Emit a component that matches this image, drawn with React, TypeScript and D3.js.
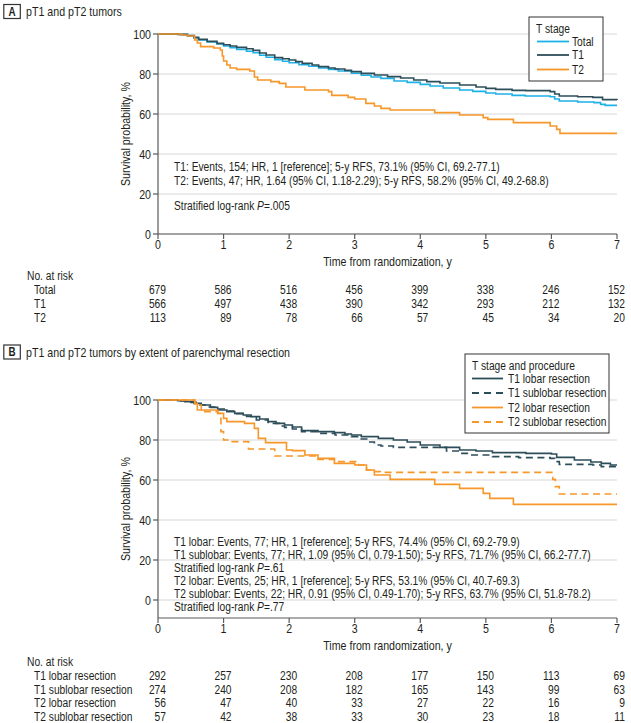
import React from "react";
import * as d3 from "d3";

// ---------- DATA ----------
const years = [0, 1, 2, 3, 4, 5, 6, 7];
const yTicks = [0, 20, 40, 60, 80, 100];

// Panel A: Kaplan-Meier steps [time (y), survival %]
const totalA: [number, number][] = [
  [0, 100], [0.35, 99.7], [0.45, 99], [0.55, 98], [0.62, 97], [0.75, 96], [0.9, 95], [1.0, 94],
  [1.1, 93.2], [1.2, 92.3], [1.35, 91.4], [1.45, 90.6], [1.55, 89.4], [1.65, 88.4], [1.78, 87.2],
  [1.9, 86.4], [2.0, 85.6], [2.15, 84.6], [2.3, 83.9], [2.45, 83], [2.6, 82.3], [2.75, 81.5],
  [2.95, 80.4], [3.1, 79.4], [3.25, 78.5], [3.4, 77.8], [3.6, 76.5], [3.8, 75.8], [4.0, 74.8],
  [4.15, 74], [4.35, 73], [4.6, 72], [4.8, 71.3], [5.0, 70.5], [5.15, 70], [5.4, 69.3], [5.6, 69],
  [5.98, 68.6], [6.05, 67.5], [6.12, 66.5], [6.4, 66], [6.65, 65.7], [6.75, 64.8], [6.82, 64.3], [7, 64.3],
];
const t1A: [number, number][] = [
  [0, 100], [0.3, 99.8], [0.45, 99.2], [0.55, 98.3], [0.62, 97.3], [0.75, 96.3], [0.9, 95.3],
  [1.0, 94.6], [1.1, 94], [1.2, 93.3], [1.35, 92.6], [1.45, 91.8], [1.55, 90.5], [1.65, 89.5],
  [1.78, 88.2], [1.9, 87.6], [2.0, 87], [2.1, 86.2], [2.2, 85.3], [2.35, 84.5], [2.45, 83.7],
  [2.6, 83], [2.7, 82.5], [2.85, 81.8], [2.95, 81.2], [3.1, 80.3], [3.3, 79.5], [3.5, 78.7],
  [3.7, 78], [3.9, 77], [4.1, 76.2], [4.3, 75.5], [4.6, 74.5], [4.85, 73.5], [5.0, 72.8],
  [5.15, 72.3], [5.4, 71.8], [5.61, 71.7], [5.98, 71.2], [6.05, 70], [6.12, 69], [6.4, 68.6],
  [6.63, 68.3], [6.78, 67.2], [7, 67],
];
const t2A: [number, number][] = [
  [0, 100], [0.36, 99.5], [0.46, 99], [0.56, 97], [0.6, 95.5], [0.65, 93.7], [0.85, 93], [0.95, 92],
  [0.98, 89], [1.0, 86.5], [1.05, 84.5], [1.1, 83], [1.2, 82.3], [1.4, 81.5], [1.47, 78.5],
  [1.52, 77], [1.72, 76.2], [1.85, 75.3], [1.95, 73.5], [2.24, 72], [2.6, 71.2], [2.65, 69.3],
  [2.9, 68.3], [3.0, 67.5], [3.17, 65.3], [3.3, 64], [3.4, 62.8], [3.54, 62], [4.22, 60.7],
  [4.6, 59.5], [4.96, 58.2], [5.03, 57.3], [5.42, 55.7], [5.98, 54], [6.08, 52.3], [6.13, 50.3], [7, 50.3],
];

// Panel B
const t1LobarB: [number, number][] = [
  [0, 100], [0.3, 99.6], [0.41, 99.2], [0.55, 98.3], [0.66, 97.5], [0.8, 96.3], [0.91, 95],
  [1.05, 94.2], [1.17, 93.3], [1.3, 92.5], [1.42, 91.7], [1.55, 90.5], [1.68, 89.2], [1.8, 88.3],
  [1.93, 87.5], [2.05, 86.5], [2.19, 84.7], [2.44, 84.2], [2.69, 83.7], [2.85, 83], [2.95, 82.5],
  [3.1, 81.7], [3.36, 80.8], [3.59, 80], [3.8, 79], [4.0, 77.5], [4.3, 76.3], [4.6, 75], [4.85, 74.5],
  [5.1, 73.7], [5.61, 73.3], [6.0, 73], [6.08, 71.3], [6.35, 70], [6.6, 69], [6.76, 68.3], [6.9, 67.5], [7, 67.5],
];
const t1SublobarB: [number, number][] = [
  [0, 100], [0.3, 99.5], [0.45, 98.8], [0.6, 97.5], [0.75, 96.5], [0.9, 95.5], [1.05, 94.5],
  [1.2, 93.2], [1.35, 91.8], [1.5, 90], [1.68, 88.3], [1.85, 87], [1.93, 86.3], [2.05, 85.5],
  [2.19, 84.2], [2.44, 83.3], [2.7, 82.5], [2.95, 81.7], [3.1, 80.5], [3.2, 79], [3.3, 77.5],
  [3.4, 77], [3.59, 76.3], [4.1, 76.3], [4.4, 74.5], [4.6, 73.3], [4.75, 72.5], [5.1, 71.7],
  [5.5, 71.2], [5.98, 70.8], [6.05, 69.2], [6.12, 67.8], [6.63, 67.5], [6.76, 66.7], [7, 66.7],
];
const t2LobarB: [number, number][] = [
  [0, 100], [0.56, 98.3], [0.6, 95], [0.91, 93.3], [1.0, 90.8], [1.05, 89.2], [1.32, 88.3],
  [1.47, 85.8], [1.53, 80.8], [1.64, 78.7], [1.96, 75], [2.05, 74.7], [2.24, 72.5], [2.44, 70.8],
  [2.69, 68.3], [3.0, 67.5], [3.18, 65], [3.3, 62.5], [3.54, 60.3], [4.22, 57.8], [4.6, 55.8],
  [4.96, 53.3], [5.06, 50.8], [5.42, 47.8], [7, 47.8],
];
const t2SublobarB: [number, number][] = [
  [0, 100], [0.56, 97.5], [0.66, 94.2], [0.91, 93.3], [0.96, 84.2], [1.0, 80], [1.1, 79.2],
  [1.38, 75.5], [1.78, 72], [2.3, 72], [2.44, 70.3], [2.69, 69.2], [3.06, 67.5], [3.18, 65],
  [3.24, 64.2], [3.39, 63.8], [5.98, 63.8], [6.02, 60.3], [6.06, 56.7], [6.12, 53], [7, 53],
];

// Risk tables
const riskLabelsA = ["Total", "T1", "T2"];
const riskA = [
  [679, 586, 516, 456, 399, 338, 246, 152],
  [566, 497, 438, 390, 342, 293, 212, 132],
  [113, 89, 78, 66, 57, 45, 34, 20],
];
const riskLabelsB = ["T1 lobar resection", "T1 sublobar resection", "T2 lobar resection", "T2 sublobar resection"];
const riskB = [
  [292, 257, 230, 208, 177, 150, 113, 69],
  [274, 240, 208, 182, 165, 143, 99, 63],
  [56, 47, 40, 33, 27, 22, 16, 9],
  [57, 42, 38, 33, 30, 23, 18, 11],
];

// ---------- STYLE ----------
const FONT = "'Liberation Sans', Arial, sans-serif";
const SX = 0.82; // horizontal condensing to mimic a narrow face
const FS = 12.5;
const TXT = "#231f20";
const AXIS = "#5a5a5a";
const GRID = "#e4e4e4";
const C_TOTAL = "#1db1e8";
const C_T1 = "#2c4e5a";
const C_T2 = "#f7972a";
const DASH = "7,4.5";

const W = 631;
const H = 723;
const x = d3.scaleLinear().domain([0, 7]).range([158, 617]);
const yA = d3.scaleLinear().domain([0, 100]).range([234, 34]);
const yB = d3.scaleLinear().domain([-9, 100]).range([618, 400]);

function pathFor(data: [number, number][], y: d3.ScaleLinear<number, number>) {
  return (
    d3
      .line<[number, number]>()
      .x((d) => x(d[0]))
      .y((d) => y(d[1]))
      .curve(d3.curveStepAfter)(data) || ""
  );
}

function T({
  x: tx,
  y: ty,
  anchor = "start",
  size = FS,
  rotate = false,
  bold = false,
  children,
}: {
  x: number;
  y: number;
  anchor?: string;
  size?: number;
  rotate?: boolean;
  bold?: boolean;
  children: React.ReactNode;
}) {
  return (
    <text
      transform={`translate(${tx},${ty})${rotate ? " rotate(-90)" : ""} scale(${SX},1)`}
      textAnchor={anchor}
      dy="0.35em"
      fontSize={size}
      fontWeight={bold ? "bold" : "normal"}
      fill={TXT}
    >
      {children}
    </text>
  );
}

function Axes({ y, y0, y100, axisY }: { y: d3.ScaleLinear<number, number>; y0: number; y100: number; axisY: number }) {
  return (
    <g>
      {yTicks.map((t) => (
        <line key={"g" + t} x1={x(0)} x2={x(7)} y1={y(t)} y2={y(t)} stroke={GRID} strokeWidth={1.6} />
      ))}
      <line x1={x(0)} x2={x(0)} y1={y(100)} y2={axisY} stroke={AXIS} strokeWidth={1.2} />
      <line x1={x(0)} x2={x(7)} y1={axisY} y2={axisY} stroke={AXIS} strokeWidth={1.2} />
      {yTicks.map((t) => (
        <g key={"y" + t}>
          <line x1={x(0) - 5} x2={x(0)} y1={y(t)} y2={y(t)} stroke={AXIS} strokeWidth={1.2} />
          <T x={x(0) - 7} y={y(t)} anchor="end" size={13}>
            {t}
          </T>
        </g>
      ))}
      {years.map((t) => (
        <g key={"x" + t}>
          <line x1={x(t)} x2={x(t)} y1={axisY} y2={axisY + 5} stroke={AXIS} strokeWidth={1.2} />
          <T x={x(t)} y={axisY + 10} anchor="middle" size={13}>
            {t}
          </T>
        </g>
      ))}
      <T x={125} y={(y0 + y100) / 2} anchor="middle" rotate size={13}>
        Survival probability, %
      </T>
      <T x={(x(0) + x(7)) / 2} y={axisY + 27} anchor="middle" size={13}>
        Time from randomization, y
      </T>
    </g>
  );
}

function PanelTitle({ letter, title, cy }: { letter: string; title: string; cy: number }) {
  return (
    <g>
      <rect x={3.8} y={cy - 7} width={16.5} height={14} fill="white" stroke="#333" strokeWidth={1.2} />
      <T x={12} y={cy} anchor="middle" size={12} bold>
        {letter}
      </T>
      <T x={26} y={cy} size={13}>
        {title}
      </T>
    </g>
  );
}

function RiskTable({ labels, rows, top }: { labels: string[]; rows: number[][]; top: number }) {
  return (
    <g>
      <T x={27} y={top}>No. at risk</T>
      {labels.map((l, i) => (
        <g key={l}>
          <T x={34} y={top + 14 + i * 13.6}>{l}</T>
          {rows[i].map((v, j) => (
            <T key={j} x={x(years[j]) + 8} y={top + 14 + i * 13.6} anchor="end">
              {v}
            </T>
          ))}
        </g>
      ))}
    </g>
  );
}

export default function App() {
  const annA = [
    "T1: Events, 154; HR, 1 [reference]; 5-y RFS, 73.1% (95% CI, 69.2-77.1)",
    "T2: Events, 47; HR, 1.64 (95% CI, 1.18-2.29); 5-y RFS, 58.2% (95% CI, 49.2-68.8)",
  ];
  const annB = [
    "T1 lobar: Events, 77; HR, 1 [reference]; 5-y RFS, 74.4% (95% CI, 69.2-79.9)",
    "T1 sublobar: Events, 77; HR, 1.09 (95% CI, 0.79-1.50); 5-y RFS, 71.7% (95% CI, 66.2-77.7)",
    "P=.61",
    "T2 lobar: Events, 25; HR, 1 [reference]; 5-y RFS, 53.1% (95% CI, 40.7-69.3)",
    "T2 sublobar: Events, 22; HR, 0.91 (95% CI, 0.49-1.70); 5-y RFS, 63.7% (95% CI, 51.8-78.2)",
    "P=.77",
  ];
  const annBy = [541.7, 554.5, 567.3, 580.7, 593.5, 606.7];

  const strat = (p: string, cy: number, key?: string) => (
    <T key={key} x={174} y={cy}>
      Stratified log-rank <tspan fontStyle="italic">P</tspan>
      {p.slice(1)}
    </T>
  );

  return (
    <svg
      width={W}
      height={H}
      style={{ position: "absolute", left: 0, top: 0, background: "white" }}
      fontFamily={FONT}
    >
      <rect width={W} height={H} fill="white" />

      {/* Panel A */}
      <PanelTitle letter="A" title="pT1 and pT2 tumors" cy={11.5} />
      <Axes y={yA} y0={234} y100={34} axisY={234} />
      <path d={pathFor(totalA, yA)} fill="none" stroke={C_TOTAL} strokeWidth={1.6} />
      <path d={pathFor(t1A, yA)} fill="none" stroke={C_T1} strokeWidth={1.6} />
      <path d={pathFor(t2A, yA)} fill="none" stroke={C_T2} strokeWidth={1.6} />
      {annA.map((s, i) => (
        <T key={s} x={174} y={[166.5, 180.5][i]}>
          {s}
        </T>
      ))}
      {strat("P=.005", 205.7)}

      {/* Legend A */}
      <g>
        <rect x={529} y={17} width={74} height={64} fill="white" stroke="#333" strokeWidth={1} />
        <T x={536} y={28.5}>T stage</T>
        {[
          ["Total", C_TOTAL, 41.5],
          ["T1", C_T1, 55],
          ["T2", C_T2, 69.5],
        ].map(([l, c, yy]) => (
          <g key={l as string}>
            <line x1={537} x2={569} y1={yy as number} y2={yy as number} stroke={c as string} strokeWidth={1.8} />
            <T x={572} y={yy as number}>{l as string}</T>
          </g>
        ))}
      </g>

      <RiskTable labels={riskLabelsA} rows={riskA} top={276} />

      {/* Panel B */}
      <PanelTitle letter="B" title="pT1 and pT2 tumors by extent of parenchymal resection" cy={352} />
      <Axes y={yB} y0={618} y100={400} axisY={618} />
      <path d={pathFor(t1LobarB, yB)} fill="none" stroke={C_T1} strokeWidth={1.6} />
      <path d={pathFor(t1SublobarB, yB)} fill="none" stroke={C_T1} strokeWidth={1.6} strokeDasharray={DASH} />
      <path d={pathFor(t2LobarB, yB)} fill="none" stroke={C_T2} strokeWidth={1.6} />
      <path d={pathFor(t2SublobarB, yB)} fill="none" stroke={C_T2} strokeWidth={1.6} strokeDasharray={DASH} />
      {annB.map((s, i) =>
        s.startsWith("P=") ? (
          strat(s, annBy[i], "s" + i)
        ) : (
          <T key={s} x={174} y={annBy[i]}>
            {s}
          </T>
        )
      )}

      {/* Legend B */}
      <g>
        <rect x={465} y={354} width={144} height={79} fill="white" stroke="#333" strokeWidth={1} />
        <T x={472} y={366}>T stage and procedure</T>
        {[
          ["T1 lobar resection", C_T1, 378.5, false],
          ["T1 sublobar resection", C_T1, 393, true],
          ["T2 lobar resection", C_T2, 407.5, false],
          ["T2 sublobar resection", C_T2, 422, true],
        ].map(([l, c, yy, dashed]) => (
          <g key={l as string}>
            <line
              x1={472}
              x2={503}
              y1={yy as number}
              y2={yy as number}
              stroke={c as string}
              strokeWidth={1.8}
              strokeDasharray={dashed ? "7,5" : undefined}
            />
            <T x={508} y={yy as number}>{l as string}</T>
          </g>
        ))}
      </g>

      <RiskTable labels={riskLabelsB} rows={riskB} top={661.7} />
    </svg>
  );
}
